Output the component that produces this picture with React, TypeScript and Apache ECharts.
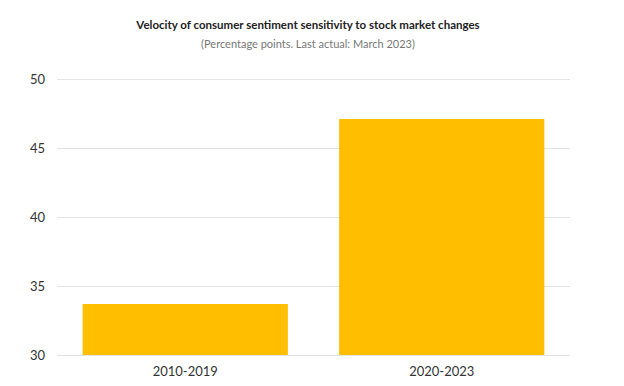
import React, { useEffect, useRef } from "react";
import * as echarts from "echarts";

const categories = ["2010-2019", "2020-2023"];
const values = [33.7, 47.1];
const titleText = "Velocity of consumer sentiment sensitivity to stock market changes";
const subtitleText = "(Percentage points. Last actual: March 2023)";

export default function App() {
  const ref = useRef<HTMLDivElement>(null);
  useEffect(() => {
    document.body.style.margin = "0";
    const chart = echarts.init(ref.current!, null, { renderer: "svg" });
    chart.setOption({
      animation: false,
      backgroundColor: "#ffffff",
      textStyle: { fontFamily: "Lato" },
      title: {
        text: titleText,
        subtext: subtitleText,
        left: 303,
        textAlign: "center",
        top: 13,
        itemGap: 8,
        textStyle: { fontSize: 11.5, fontWeight: "bold", color: "#222222", fontFamily: "Lato" },
        subtextStyle: { fontSize: 11, color: "#777777", fontFamily: "Lato" },
      },
      grid: { left: 57, right: 54, top: 79, bottom: 31, containLabel: false },
      xAxis: {
        type: "category",
        data: categories,
        axisLine: { show: false },
        axisTick: { show: false },
        axisLabel: { fontSize: 13, color: "#333333", margin: 9, fontFamily: "Lato" },
      },
      yAxis: {
        type: "value",
        min: 30,
        max: 50,
        interval: 5,
        axisLine: { show: false },
        axisTick: { show: false },
        splitLine: { lineStyle: { color: "#e4e4e4", width: 1 } },
        axisLabel: { fontSize: 13, color: "#333333", margin: 12, fontFamily: "Lato" },
      },
      series: [
        {
          type: "bar",
          data: values,
          barCategoryGap: "20%",
          itemStyle: { color: "#ffbf00" },
        },
      ],
    });
    return () => chart.dispose();
  }, []);
  return <div ref={ref} style={{ width: 624, height: 386 }} />;
}
